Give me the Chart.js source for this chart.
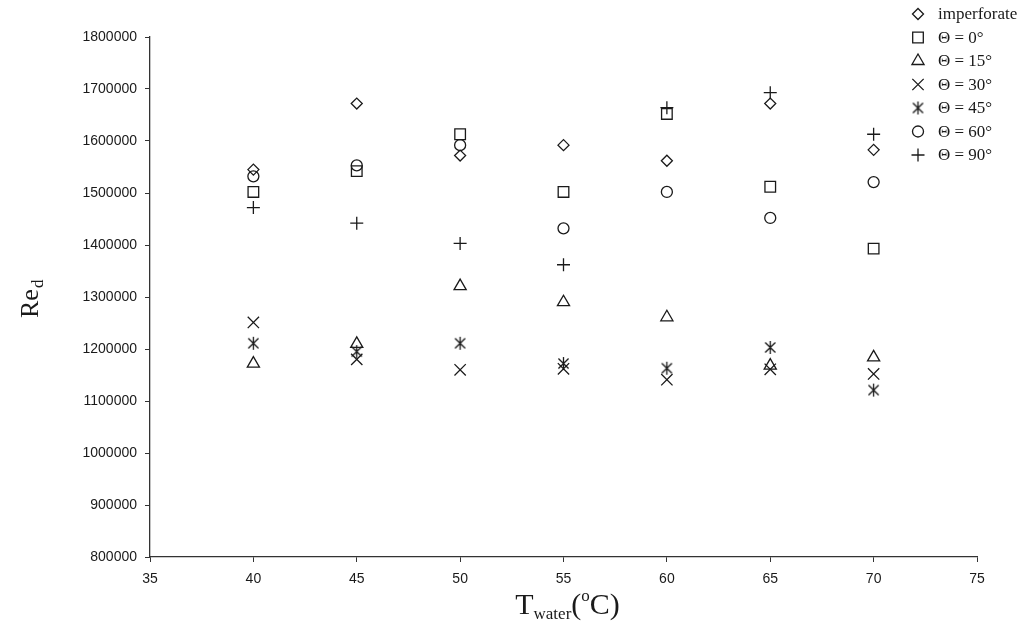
<!DOCTYPE html>
<html>
<head>
<meta charset="utf-8">
<script src="https://cdn.jsdelivr.net/npm/chart.js@4.4.0/dist/chart.umd.min.js"></script>
<style>
  html, body { margin: 0; padding: 0; background: #fff; }
</style>
</head>
<body>
<canvas id="chart" width="1025" height="624"></canvas>
<script>
// water temperature (x) and Re_d per perforation angle
var temps = [40, 45, 50, 55, 60, 65, 70];
var imperforate = [1545000, 1672000, 1572000, 1592000, 1562000, 1672000, 1583000];
var theta0  = [1502000, 1542000, 1613000, 1502000, 1652000, 1512000, 1393000];
var theta15 = [1172000, 1210000, 1321000, 1290000, 1261000, 1168000, 1184000];
var theta30 = [1251000, 1180000, 1160000, 1162000, 1141000, 1161000, 1152000];
var theta45 = [1211000, 1195000, 1211000, 1172000, 1163000, 1203000, 1121000];
var theta60 = [1532000, 1553000, 1592000, 1432000, 1502000, 1452000, 1521000];
var theta90 = [1472000, 1442000, 1403000, 1362000, 1664000, 1693000, 1613000];

var seriesLabels = ["imperforate", "\u0398 = 0\u00b0", "\u0398 = 15\u00b0", "\u0398 = 30\u00b0",
                    "\u0398 = 45\u00b0", "\u0398 = 60\u00b0", "\u0398 = 90\u00b0"];
var xMin = 35, xMax = 75, xStep = 5;
var yMin = 800000, yMax = 1800000, yStep = 100000;

var ink = "#1a1a1a";

// six-armed asterisk (X with a vertical bar), as in the original
function makeAsterisk(r) {
  var s = Math.ceil(r * 2 + 4);
  var c = document.createElement("canvas");
  c.width = s; c.height = s;
  var g = c.getContext("2d");
  var m = s / 2, d = r * 0.78;
  g.strokeStyle = ink;
  g.lineWidth = 1.3;
  g.beginPath();
  g.moveTo(m - d, m - d); g.lineTo(m + d, m + d);
  g.moveTo(m + d, m - d); g.lineTo(m - d, m + d);
  g.moveTo(m, m - r); g.lineTo(m, m + r);
  g.stroke();
  return c;
}
var asterisk = makeAsterisk(6.5);

function toPoints(values) {
  return temps.map(function(t, i) { return { x: t, y: values[i] }; });
}

var styles = [
  { style: "rectRot", r: 5.5 },
  { style: "rect", r: 7.5 },
  { style: "triangle", r: 7 },
  { style: "crossRot", r: 8 },
  { style: asterisk, r: 6.5 },
  { style: "circle", r: 5.5 },
  { style: "cross", r: 6.5 }
];
var seriesValues = [imperforate, theta0, theta15, theta30, theta45, theta60, theta90];

var datasets = seriesValues.map(function(vals, i) {
  return {
    label: seriesLabels[i],
    data: toPoints(vals),
    pointStyle: styles[i].style,
    pointRadius: styles[i].r,
    pointBorderWidth: 1.3,
    pointBorderColor: ink,
    pointBackgroundColor: "rgba(0,0,0,0)",
    borderColor: ink,
    backgroundColor: "rgba(0,0,0,0)",
    showLine: false
  };
});

// legend at top right and axis titles with sub/superscripts
var decor = {
  id: "decor",
  afterDraw: function(chart) {
    var ctx = chart.ctx;
    var helpers = Chart.helpers;
    ctx.save();
    ctx.fillStyle = ink;
    ctx.strokeStyle = ink;
    ctx.textBaseline = "middle";
    ctx.font = '17px "Liberation Serif"';
    for (var i = 0; i < seriesLabels.length; i++) {
      var y = 14 + 23.5 * i;
      ctx.fillStyle = "rgba(0,0,0,0)";
      ctx.lineWidth = 1.3;
      helpers.drawPoint(ctx, {
        pointStyle: styles[i].style,
        radius: styles[i].r,
        rotation: 0,
        borderWidth: 1.3
      }, 918, y);
      ctx.fillStyle = ink;
      ctx.fillText(seriesLabels[i], 938, y + 1);
    }

    // x title: T_water(°C)
    var area = chart.chartArea;
    ctx.textBaseline = "alphabetic";
    var big = '30px "Liberation Serif"', small = '17px "Liberation Serif"';
    var parts = [
      { t: "T", f: big, dy: 0 },
      { t: "water", f: small, dy: 5 },
      { t: "(", f: big, dy: 0 },
      { t: "o", f: small, dy: -13 },
      { t: "C)", f: big, dy: 0 }
    ];
    var total = 0;
    parts.forEach(function(p) { ctx.font = p.f; p.w = ctx.measureText(p.t).width; total += p.w; });
    var x = (area.left + area.right) / 2 - total / 2 + 4;
    var base = 614;
    parts.forEach(function(p) {
      ctx.font = p.f;
      ctx.fillText(p.t, x, base + p.dy);
      x += p.w;
    });

    // y title: Re_d
    ctx.translate(38, 318);
    ctx.rotate(-Math.PI / 2);
    ctx.font = '26px "Liberation Serif"';
    ctx.fillText("Re", 0, 0);
    var w = ctx.measureText("Re").width;
    ctx.font = '17px "Liberation Serif"';
    ctx.fillText("d", w + 1, 5);
    ctx.restore();
  }
};

var tickFont = { family: '"Liberation Sans", Arial, sans-serif', size: 14 };

new Chart(document.getElementById("chart").getContext("2d"), {
  type: "scatter",
  data: { datasets: datasets },
  plugins: [decor],
  options: {
    responsive: false,
    animation: false,
    layout: { padding: { left: 0, right: 48, top: 37, bottom: 0 } },
    plugins: { legend: { display: false }, tooltip: { enabled: false } },
    scales: {
      x: {
        type: "linear",
        min: xMin, max: xMax,
        ticks: { stepSize: xStep, color: ink, font: tickFont, padding: 9 },
        grid: { display: true, drawOnChartArea: false, drawTicks: true, tickLength: 5, color: "#333" },
        border: { display: true, color: "#333", width: 1.3 },
        afterFit: function(scale) { scale.height = 67; }
      },
      y: {
        min: yMin, max: yMax,
        ticks: {
          stepSize: yStep, color: ink, font: tickFont, padding: 8,
          callback: function(v) { return String(v); }
        },
        grid: { display: true, drawOnChartArea: false, drawTicks: true, tickLength: 5, color: "#333" },
        border: { display: true, color: "#333", width: 1.3 },
        afterFit: function(scale) { scale.width = 150; }
      }
    }
  }
});
</script>
</body>
</html>
